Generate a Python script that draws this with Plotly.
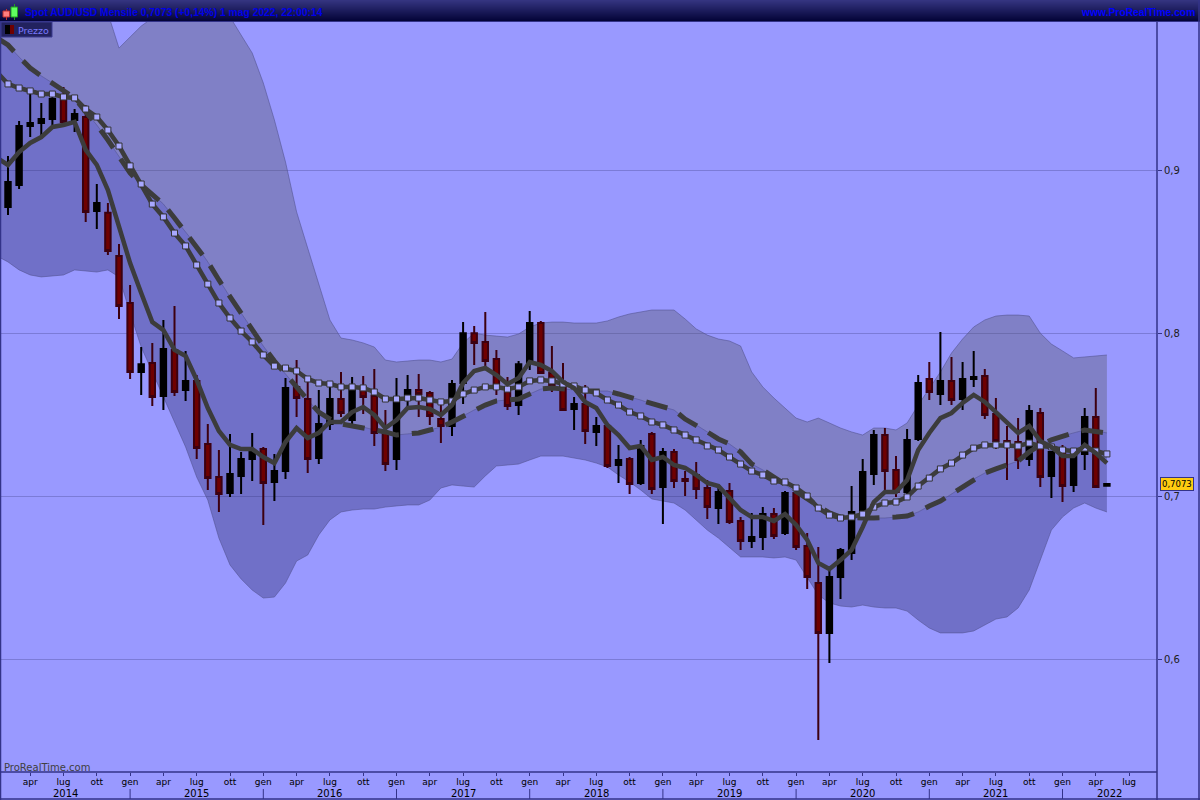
import plotly.graph_objects as go

# ---- data (AUD/USD monthly, Feb 2014 .. May 2022) ----
month_names = ["gen", "feb", "mar", "apr", "mag", "giu", "lug", "ago", "set", "ott", "nov", "dic"]
tick_months = ["gen", "apr", "lug", "ott"]
year_labels = ["2014", "2015", "2016", "2017", "2018", "2019", "2020", "2021", "2022"]
price_ticks = [0.6, 0.7, 0.8, 0.9]
price_tick_labels = ["0,6", "0,7", "0,8", "0,9"]
last_price = 0.7073
last_price_label = "0,7073"

opens = [.8773, .8908, .9270, .9289, .9313, .9435, .9307, .9325, .8749, .8737,
         .8472, .8184, .7761, .7816, .7613, .7896, .7650, .7706, .7319, .7116,
         .7018, .7123, .7227, .7289, .7086, .7153, .7669, .7595, .7233, .7442,
         .7595, .7466, .7669, .7613, .7387, .7227, .7589, .7650, .7632, .7472,
         .7430, .7693, .7999, .7945, .7840, .7669, .7558, .7816, .8061, .7755,
         .7693, .7534, .7564, .7393, .7430, .7190, .7227, .7080, .7381, .7055,
         .7270, .7104, .7129, .7049, .6926, .7031, .6846, .6724, .6748, .6889,
         .6773, .7018, .6693, .6466, .6160, .6503, .6650, .6902, .7135, .7374,
         .7160, .7024, .7350, .7718, .7626, .7706, .7595, .7718, .7736, .7503,
         .7337, .7331, .7227, .7509, .7123, .7294, .7068, .7258, .7485, .7063]
highs = [.9086, .9301, .9473, .9411, .9479, .9509, .9374, .9398, .8914, .8798,
         .8546, .8294, .7914, .7939, .8080, .8165, .7890, .7742, .7442, .7282,
         .7381, .7270, .7387, .7301, .7258, .7724, .7834, .7700, .7650, .7669,
         .7761, .7730, .7736, .7779, .7528, .7724, .7742, .7748, .7644, .7558,
         .7712, .8067, .8043, .8129, .7896, .7730, .7828, .8135, .8074, .7920,
         .7816, .7607, .7681, .7485, .7448, .7313, .7239, .7344, .7393, .7294,
         .7288, .7153, .7209, .7098, .7068, .7080, .6871, .6896, .6932, .6926,
         .7031, .7031, .6773, .6687, .6546, .6681, .7061, .7227, .7405, .7417,
         .7245, .7411, .7742, .7822, .8006, .7853, .7822, .7890, .7779, .7601,
         .7429, .7479, .7558, .7540, .7276, .7313, .7276, .7540, .7662, .7075]
lows = [.8724, .8883, .9202, .9214, .9257, .9283, .9233, .8681, .8638, .8478,
        .8086, .7718, .7619, .7552, .7528, .7613, .7583, .7227, .7037, .6902,
        .6994, .7012, .7092, .6822, .6969, .7104, .7485, .7141, .7196, .7405,
        .7485, .7436, .7503, .7307, .7153, .7160, .7528, .7485, .7436, .7325,
        .7368, .7564, .7804, .7791, .7619, .7528, .7497, .7773, .7749, .7638,
        .7521, .7405, .7319, .7307, .7172, .7080, .7012, .7068, .7012, .6828,
        .7049, .7000, .6982, .6859, .6828, .6828, .6669, .6681, .6669, .6736,
        .6761, .6669, .6429, .5503, .5975, .6368, .6607, .6865, .7068, .7031,
        .6994, .7006, .7337, .7589, .7558, .7558, .7528, .7669, .7472, .7288,
        .7098, .7166, .7184, .7055, .6988, .6963, .7024, .7160, .7049, .7063]
closes = [.8927, .9270, .9289, .9313, .9435, .9295, .9343, .8743, .8798, .8503,
          .8165, .7761, .7809, .7607, .7902, .7638, .7706, .7294, .7110, .7012,
          .7135, .7227, .7270, .7080, .7153, .7663, .7601, .7227, .7442, .7595,
          .7509, .7656, .7607, .7387, .7196, .7595, .7650, .7626, .7491, .7430,
          .7687, .7999, .7939, .7828, .7663, .7552, .7809, .8061, .7755, .7675,
          .7528, .7564, .7399, .7430, .7184, .7221, .7074, .7307, .7043, .7270,
          .7092, .7092, .7043, .6932, .7024, .6840, .6724, .6748, .6889, .6755,
          .7018, .6687, .6503, .6160, .6503, .6669, .6902, .7147, .7374, .7153,
          .7024, .7344, .7693, .7638, .7706, .7589, .7718, .7730, .7497, .7337,
          .7325, .7221, .7521, .7116, .7270, .7061, .7264, .7485, .7055, .7073]
# indicator series start one month earlier (Jan 2014, just off the left edge)
band_upper = [1.1200,
              1.1098, 1.0998, 1.0908, 1.0798, 1.0718, 1.0601, 1.0472, 1.0258, 1.0141, .9963,
              .9748, .9816, .9883, .9932, .9969, .9994, 1.0012, .9994, .9969, .9994,
              .9939, .9828, .9718, .9534, .9307, .9049, .8743, .8521, .8294, .8080,
              .7969, .7957, .7939, .7914, .7834, .7822, .7828, .7834, .7834, .7822,
              .7840, .7939, .7999, .7987, .7981, .7975, .7994, .8037, .8061, .8067,
              .8067, .8061, .8061, .8061, .8074, .8098, .8117, .8129, .8141, .8141,
              .8141, .8086, .8025, .7987, .7963, .7951, .7920, .7761, .7669, .7601,
              .7540, .7478, .7454, .7478, .7448, .7417, .7393, .7374, .7417, .7417,
              .7405, .7448, .7558, .7663, .7761, .7877, .7963, .8037, .8080, .8104,
              .8110, .8110, .8104, .7999, .7932, .7890, .7847, .7853, .7859, .7865]
band_mid = [.9810,
            .9767, .9693, .9626, .9577, .9534, .9485, .9442, .9356, .9276, .9184,
            .9080, .8982, .8908, .8853, .8791, .8706, .8620, .8534, .8436, .8325,
            .8221, .8123, .8018, .7920, .7828, .7748, .7663, .7589, .7515, .7472,
            .7442, .7429, .7423, .7405, .7393, .7374, .7381, .7387, .7405, .7423,
            .7454, .7491, .7528, .7558, .7583, .7589, .7595, .7626, .7656, .7663,
            .7656, .7650, .7644, .7644, .7644, .7626, .7607, .7589, .7564, .7546,
            .7528, .7472, .7436, .7393, .7350, .7319, .7270, .7196, .7160, .7116,
            .7068, .7024, .6975, .6932, .6896, .6871, .6865, .6865, .6865, .6865,
            .6871, .6877, .6902, .6939, .6969, .7012, .7055, .7104, .7141, .7166,
            .7190, .7215, .7270, .7313, .7344, .7368, .7387, .7405, .7399, .7387]
band_lower = [.8472,
              .8436, .8387, .8356, .8344, .8350, .8356, .8387, .8380, .8374, .8387,
              .8344, .8123, .7914, .7761, .7607, .7448, .7301, .7116, .6975, .6742,
              .6577, .6491, .6423, .6374, .6380, .6466, .6601, .6638, .6761, .6853,
              .6902, .6914, .6920, .6920, .6932, .6939, .6945, .6945, .6975, .7049,
              .7068, .7061, .7055, .7123, .7184, .7190, .7196, .7221, .7245, .7245,
              .7245, .7233, .7221, .7202, .7178, .7129, .7086, .7037, .6982, .6969,
              .6957, .6914, .6853, .6791, .6742, .6681, .6626, .6626, .6626, .6620,
              .6626, .6607, .6503, .6393, .6344, .6325, .6319, .6331, .6319, .6313,
              .6313, .6294, .6239, .6190, .6160, .6160, .6160, .6172, .6209, .6245,
              .6258, .6313, .6423, .6607, .6791, .6871, .6926, .6957, .6926, .6902]
ma_dotted = [.9601,
             .9528, .9503, .9485, .9466, .9466, .9448, .9442, .9374, .9325, .9245,
             .9147, .9025, .8914, .8791, .8712, .8613, .8534, .8417, .8300, .8184,
             .8092, .8012, .7945, .7865, .7797, .7785, .7767, .7718, .7693, .7687,
             .7669, .7669, .7663, .7638, .7595, .7595, .7601, .7601, .7589, .7577,
             .7583, .7626, .7650, .7669, .7669, .7656, .7669, .7706, .7712, .7706,
             .7687, .7675, .7650, .7632, .7589, .7558, .7515, .7491, .7454, .7436,
             .7405, .7374, .7344, .7307, .7282, .7239, .7196, .7153, .7129, .7092,
             .7086, .7049, .7000, .6926, .6883, .6865, .6871, .6889, .6932, .6957,
             .6963, .6994, .7061, .7110, .7166, .7202, .7251, .7294, .7313, .7313,
             .7313, .7307, .7325, .7307, .7301, .7282, .7276, .7294, .7276, .7258]
ma_solid = [.9074,
            .9031, .9110, .9166, .9202, .9264, .9276, .9295, .9123, .9031, .8877,
            .8644, .8429, .8245, .8067, .8018, .7896, .7859, .7712, .7540, .7399,
            .7313, .7288, .7288, .7239, .7202, .7331, .7417, .7356, .7387, .7454,
            .7454, .7515, .7546, .7497, .7417, .7466, .7540, .7546, .7534, .7497,
            .7558, .7693, .7767, .7785, .7742, .7687, .7724, .7822, .7804, .7767,
            .7700, .7663, .7577, .7540, .7436, .7374, .7294, .7307, .7221, .7239,
            .7190, .7172, .7129, .7080, .7061, .6988, .6914, .6871, .6871, .6847,
            .6889, .6822, .6730, .6589, .6552, .6607, .6669, .6810, .6963, .7024,
            .7024, .7098, .7282, .7387, .7478, .7509, .7571, .7620, .7577, .7515,
            .7454, .7387, .7429, .7337, .7301, .7245, .7245, .7313, .7264, .7202]

# ---- derived labels / positions on the bar index ----
bar_index = list(range(len(closes)))
ind_index = [-1] + bar_index
tickvals, ticktext, year_starts = [], [], []
for idx in range(0, 102):
    name = month_names[(idx + 1) % 12]   # index 0 is February 2014
    if name in tick_months:
        tickvals.append(idx)
        ticktext.append(name)
    if name == "gen":
        year_starts.append(idx)

W, H = 1200, 800
L, R, T, B = 1, 1157, 22, 772
bar_px = 11.1
x_range = [(L - 8) / bar_px, (R - 8) / bar_px]
y_range = [0.9 - (B - 170) / 1630, 0.9 - (T - 170) / 1630]

def px(x):
    return (x - L) / (R - L)

def py(y):
    return (B - y) / (B - T)

fig = go.Figure()
BG = "#9999ff"
NAVY = "#333388"
edge = dict(color="rgba(80,80,140,0.55)", width=1)
fig.add_trace(go.Scatter(x=ind_index, y=band_upper, mode="lines", line=edge))
fig.add_trace(go.Scatter(x=ind_index, y=band_mid, mode="lines", line=edge,
                         fill="tonexty", fillcolor="rgba(90,90,112,0.4)"))
fig.add_trace(go.Scatter(x=ind_index, y=band_lower, mode="lines", line=edge,
                         fill="tonexty", fillcolor="rgba(50,50,118,0.4)"))
fig.add_trace(go.Candlestick(
    x=bar_index, open=opens, high=highs, low=lows, close=closes, yaxis="y2",
    increasing=dict(line=dict(color="#000000", width=2), fillcolor="#000000"),
    decreasing=dict(line=dict(color="#3c0010", width=2), fillcolor="#6e0000"),
    whiskerwidth=0))
fig.add_trace(go.Scatter(x=ind_index, y=band_mid, mode="lines", yaxis="y2",
                         line=dict(color="#3c3c3c", width=5, dash="22px,13px")))
fig.add_trace(go.Scatter(x=ind_index, y=ma_dotted, mode="lines+markers", yaxis="y2",
                         line=dict(color="#3c3c3c", width=4.5),
                         marker=dict(symbol="square", size=6, color="#a8a8ff",
                                     line=dict(color="#333333", width=1))))
fig.add_trace(go.Scatter(x=ind_index, y=ma_solid, mode="lines", yaxis="y2",
                         line=dict(color="#3c3c3c", width=4.5)))

shapes = []
# header gradient
top_c, bot_c = (52, 52, 128), (4, 4, 56)
for k in range(21):
    t = k / 20
    c = tuple(round(a + (b - a) * t) for a, b in zip(top_c, bot_c))
    shapes.append(dict(type="rect", xref="paper", yref="paper", layer="above",
                       x0=px(0), x1=px(W), y0=py(k + 1), y1=py(k),
                       fillcolor="rgb(%d,%d,%d)" % c, line=dict(width=0)))
shapes.append(dict(type="line", xref="paper", yref="paper", x0=px(0), x1=px(W), y0=py(21.5), y1=py(21.5),
                   line=dict(color=NAVY, width=1), layer="above"))
# frame lines
for x0, y0, x1, y1, w in [(R, T, R, H, 1.5), (0.5, T, 0.5, H, 1.5), (0, B, R, B, 1.5),
                          (0, H - 1, W, H - 1, 1.5), (W - 1, 0, W - 1, H, 1.5)]:
    shapes.append(dict(type="line", xref="paper", yref="paper", layer="above",
                       x0=px(x0), x1=px(x1), y0=py(y0), y1=py(y1),
                       line=dict(color=NAVY, width=w)))
# year separators on the time axis
for idx in year_starts:
    shapes.append(dict(type="line", xref="x", yref="paper", layer="above",
                       x0=idx, x1=idx, y0=py(789), y1=py(799),
                       line=dict(color=NAVY, width=1)))
# legend chip
shapes.append(dict(type="rect", xref="paper", yref="paper", layer="above",
                   x0=px(1), x1=px(52), y0=py(37), y1=py(22),
                   fillcolor="#22225f", line=dict(color="#3a3a90", width=1)))
shapes.append(dict(type="rect", xref="paper", yref="paper", layer="above",
                   x0=px(5), x1=px(10), y0=py(34), y1=py(25),
                   fillcolor="#000000", line=dict(width=0)))
shapes.append(dict(type="rect", xref="paper", yref="paper", layer="above",
                   x0=px(10), x1=px(14), y0=py(34), y1=py(25),
                   fillcolor="#6e0000", line=dict(width=0)))
# header candle icons
for xc, y0, y1, yw0, yw1, col, bc in [(6, 11, 17, 9, 20, "#ff8080", "#c03030"),
                                      (14, 7, 17, 4, 20, "#60ff60", "#20a020")]:
    shapes.append(dict(type="line", xref="paper", yref="paper", layer="above",
                       x0=px(xc + .5), x1=px(xc + .5), y0=py(yw0), y1=py(yw1),
                       line=dict(color=bc, width=1)))
    shapes.append(dict(type="rect", xref="paper", yref="paper", layer="above",
                       x0=px(xc - 3), x1=px(xc + 3.5), y0=py(y1), y1=py(y0),
                       fillcolor=col, line=dict(color=bc, width=1)))

MAIN = "DejaVu Sans"
HEAD = "Liberation Sans"
ann = []
def text(x, y, s, size, color, anchor="left", family=MAIN, xref="paper"):
    ann.append(dict(x=x if xref != "paper" else px(x), y=py(y), xref=xref, yref="paper", text=s,
                    showarrow=False, xanchor=anchor, yanchor="middle",
                    font=dict(family=family, size=size, color=color)))

text(23, 12.5, "<b>Spot AUD/USD Mensile 0,7073 (+0,14%) 1 mag 2022, 22:00:14</b>", 10.3, "#0000e8", family=HEAD)
text(1197, 12.5, "<b>www.ProRealTime.com</b>", 10.3, "#0000ff", anchor="right", family=HEAD)
text(16, 30, "Prezzo", 9.5, "#7a7aff")
text(2, 767, "ProRealTime.com", 10, "#404040")
centers = [(x_range[0] + year_starts[0]) / 2]
for a, b in zip(year_starts[:-1], year_starts[1:]):
    centers.append((a + b) / 2)
centers.append((year_starts[-1] + x_range[1]) / 2)
for c, label in zip(centers, year_labels):
    text(c, 793, label, 10, "#000000", anchor="center", xref="x")
ann.append(dict(x=1.0, xshift=20, y=last_price, xref="paper", yref="y", text=last_price_label,
                showarrow=False, xanchor="center", yanchor="middle",
                bgcolor="#ffcc11", bordercolor=NAVY, borderwidth=1, borderpad=1,
                font=dict(family=MAIN, size=8.5, color="#000000")))

fig.update_layout(
    width=W, height=H,
    margin=dict(l=L, r=W - R, t=T, b=H - B, autoexpand=False),
    paper_bgcolor=BG, plot_bgcolor=BG,
    showlegend=False, boxgap=0.3, hovermode=False,
    shapes=shapes, annotations=ann,
    font=dict(family=MAIN, size=10, color="#000000"),
    xaxis=dict(range=x_range, tickmode="array", tickvals=tickvals, ticktext=ticktext,
               showgrid=False, zeroline=False, showline=False, ticks="outside", ticklen=3,
               tickcolor=NAVY, tickangle=0, ticklabelstandoff=-2,
               tickfont=dict(family=MAIN, size=9, color="#000000"),
               rangeslider=dict(visible=False)),
    yaxis=dict(range=y_range, side="right", tickmode="array", tickvals=price_ticks,
               ticktext=price_tick_labels, showgrid=True, gridcolor="rgba(80,80,160,0.42)",
               gridwidth=1, zeroline=False, showline=False, ticks="outside", ticklen=4,
               tickcolor=NAVY, tickfont=dict(family=MAIN, size=10, color="#202020")),
    yaxis2=dict(range=y_range, overlaying="y", side="right", visible=False),
)
fig.write_html("out.html", config={"displayModeBar": False},
               post_script="document.body.style.margin='0';document.body.style.overflow='hidden';")
